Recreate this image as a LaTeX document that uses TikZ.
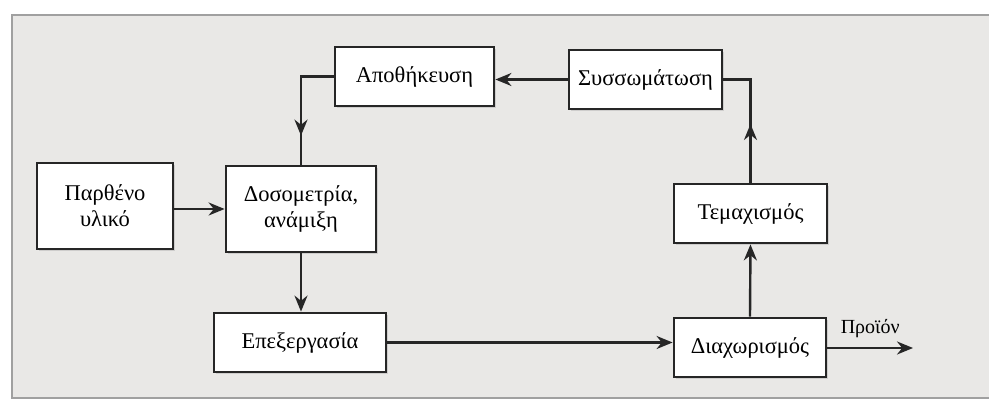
\documentclass[tikz,border=0pt]{standalone}
\usepackage{fontspec}
\setmainfont{Liberation Serif}
\usetikzlibrary{arrows.meta,decorations.markings,shadows}
\definecolor{panelgray}{HTML}{E9E8E6}
\definecolor{panelline}{HTML}{A0A0A0}
\tikzset{
  procbox/.style={draw=black!85, line width=2.8pt, fill=white, align=center,
    font=\fontsize{22.5}{26}\selectfont, inner sep=0pt,
    drop shadow={opacity=0.25, shadow xshift=2pt, shadow yshift=-2pt}},
  flow/.style={line width=2.4pt, draw=black!85, -{Stealth[length=16pt,width=13pt]}},
  midflow/.style={line width=2.4pt, draw=black!85, postaction={decorate},
    decoration={markings, mark=at position #1 with {\arrow{Stealth[length=16pt,width=13pt]}}}}
}
\begin{document}
\begin{tikzpicture}[x=1pt,y=-1pt]
\useasboundingbox (0,0) rectangle (989,403);
\fill[white] (0,0) rectangle (989,403);
\draw[panelline, line width=1.8pt, fill=panelgray] (12,15) rectangle (995,398);

\node[procbox, minimum width=159pt, minimum height=59pt] (apoth) at (414.5,76.5) {Αποθήκευση};
\node[procbox, minimum width=153pt, minimum height=59pt] (syss) at (645.5,79.5) {Συσσωμάτωση};
\node[procbox, minimum width=136pt, minimum height=86pt] (parth) at (105,206) {Παρθένο\\υλικό};
\node[procbox, minimum width=150pt, minimum height=86pt] (doso) at (301,209) {Δοσομετρία,\\ανάμιξη};
\node[procbox, minimum width=172pt, minimum height=59pt] (epex) at (300,342.5) {Επεξεργασία};
\node[procbox, minimum width=153pt, minimum height=59pt] (temax) at (750.5,213.5) {Τεμαχισμός};
\node[procbox, minimum width=152pt, minimum height=59pt] (diax) at (750,347.5) {Διαχωρισμός};
\coordinate (out) at (913,348);

\draw[midflow=0.76] (apoth.west) -| (doso.north);
\draw[flow] (syss.west) -- (apoth.east |- syss.west);
\draw[midflow=0.45] (temax.north) |- (syss.east);
\draw[flow] (diax.north) -- (temax.south);
\draw[flow] (parth.east |- doso.west) -- (doso.west);
\draw[flow] (doso.south) -- (epex.north -| doso.south);
\draw[flow] (epex.east) -- (diax.west |- epex.east);
\draw[flow] (diax.east |- out) -- node[above=6pt, font=\fontsize{20}{24}\selectfont] {Προϊόν} (out);
\end{tikzpicture}
\end{document}
